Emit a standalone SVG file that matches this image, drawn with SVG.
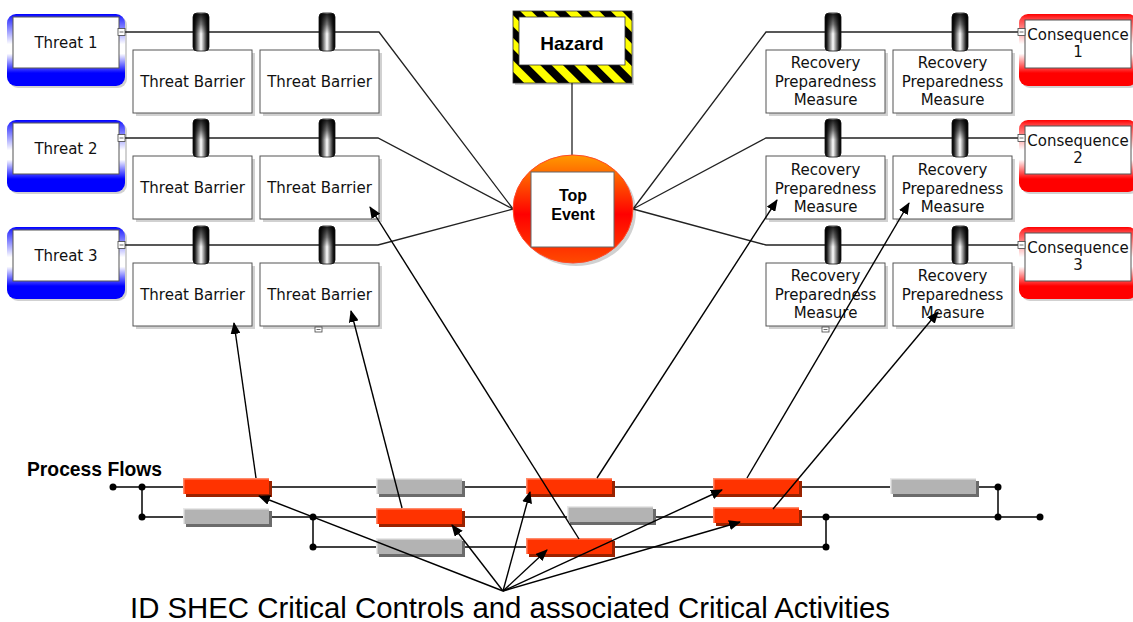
<svg xmlns="http://www.w3.org/2000/svg" width="1133" height="622" viewBox="0 0 1133 622">
<defs>
<style>
.box{fill:#fff;stroke:#555;stroke-width:1}
.sh{fill:#000;opacity:0.18}
.t{font-family:"DejaVu Sans",Verdana,sans-serif;font-size:15px;fill:#111;text-anchor:middle}
.b{font-family:"Liberation Sans",Arial,sans-serif;font-weight:bold;fill:#000}
.ln{stroke:#222;stroke-width:1.3;fill:none}
.arr{stroke:#000;stroke-width:1.4;fill:none;marker-end:url(#ah)}
.flow{stroke:#000;stroke-width:1.5;fill:none}
.tab{fill:url(#tabG);stroke:#111;stroke-width:0.8}
.tabtop{fill:url(#tabV)}
.red{fill:#ff3300}
.redsh{fill:#9a2200}
.redhl{fill:#ff8a6a}
.gray{fill:#b3b3b3}
.graysh{fill:#6b6b6b}
.grayhl{fill:#e8e8e8}
.mk{fill:#fff;stroke:#444;stroke-width:0.8}
</style>
<linearGradient id="tabG" x1="0" y1="0" x2="1" y2="0">
<stop offset="0" stop-color="#000"/><stop offset="0.12" stop-color="#1a1a1a"/><stop offset="0.5" stop-color="#fff"/><stop offset="0.88" stop-color="#1a1a1a"/><stop offset="1" stop-color="#000"/>
</linearGradient>
<linearGradient id="tabV" x1="0" y1="0" x2="0" y2="1">
<stop offset="0" stop-color="#000" stop-opacity="0.9"/><stop offset="0.3" stop-color="#000" stop-opacity="0.5"/><stop offset="0.55" stop-color="#000" stop-opacity="0"/><stop offset="1" stop-color="#000" stop-opacity="0"/>
</linearGradient>
<linearGradient id="blueG" x1="0" y1="0" x2="0" y2="1">
<stop offset="0" stop-color="#0000ff"/><stop offset="0.06" stop-color="#3a3aff"/><stop offset="0.42" stop-color="#ffffff"/><stop offset="0.55" stop-color="#ffffff"/><stop offset="0.82" stop-color="#0000ff"/><stop offset="1" stop-color="#0000ff"/>
</linearGradient>
<linearGradient id="redG" x1="0" y1="0" x2="0" y2="1">
<stop offset="0" stop-color="#ff0000"/><stop offset="0.06" stop-color="#ff3a3a"/><stop offset="0.42" stop-color="#ffffff"/><stop offset="0.55" stop-color="#ffffff"/><stop offset="0.82" stop-color="#ff0000"/><stop offset="1" stop-color="#ff0000"/>
</linearGradient>
<linearGradient id="teG" x1="0" y1="0" x2="0" y2="1">
<stop offset="0" stop-color="#ff9a00"/><stop offset="0.55" stop-color="#ff0000"/><stop offset="1" stop-color="#ff4a00"/>
</linearGradient>
<pattern id="stripes" patternUnits="userSpaceOnUse" width="16" height="16" patternTransform="rotate(-45)">
<rect width="16" height="16" fill="#ffff00"/><rect width="8" height="16" fill="#000"/>
</pattern>
<marker id="ah" markerWidth="12" markerHeight="10" refX="11" refY="5" orient="auto" markerUnits="userSpaceOnUse">
<path d="M0,0 L12,5 L0,10 Z" fill="#000"/>
</marker>
<g id="tabShape">
<rect x="0" y="0" width="16" height="38" rx="4" class="tab"/>
<rect x="0.4" y="0.4" width="15.2" height="37" rx="4" class="tabtop"/>
</g>
</defs>
<rect width="1133" height="622" fill="#fff"/>

<g id="connectors-bowtie">
<polyline class="ln" points="125,32 379,32 513,209"/>
<polyline class="ln" points="125,138 378,138 513,209"/>
<polyline class="ln" points="125,245 378,245 513,209"/>
<polyline class="ln" points="1018,32 766,32 633,209"/>
<polyline class="ln" points="1018,138 766,138 633,209"/>
<polyline class="ln" points="1018,245 766,245 633,209"/>
<line class="ln" x1="572" y1="83" x2="572" y2="155"/>
</g>

<g id="hazard">
<rect x="515" y="13" width="119" height="72" class="sh"/>
<rect x="513" y="11" width="119" height="72" fill="url(#stripes)" stroke="#333" stroke-width="0.8"/>
<rect x="519" y="17" width="106" height="48" fill="#fff" stroke="#333" stroke-width="0.8"/>
<text x="572" y="50" class="b" font-size="19" text-anchor="middle">Hazard</text>
</g>

<g id="top-event">
<ellipse cx="576" cy="212" rx="60" ry="54" class="sh"/>
<ellipse cx="573" cy="209" rx="60" ry="54" fill="url(#teG)" stroke="#ff4a2a" stroke-width="1"/>
<rect x="531" y="172" width="83" height="75" fill="#fff" stroke="#666" stroke-width="1"/>
<text x="573" y="201" class="b" font-size="16" text-anchor="middle">Top</text>
<text x="573" y="220" class="b" font-size="16" text-anchor="middle">Event</text>
</g>

<g id="threat-1">
<rect x="9" y="16" width="118" height="72" rx="9" class="sh"/>
<rect x="7" y="14" width="118" height="72" rx="9" fill="url(#blueG)"/>
<rect x="13" y="17" width="106" height="51" class="box"/>
<rect x="118" y="28.5" width="7" height="7" class="mk"/><line x1="119.5" y1="32" x2="123.5" y2="32" stroke="#444" stroke-width="0.8"/>
<text x="66" y="48" class="t">Threat 1</text>
</g>
<g id="threat-2">
<rect x="9" y="122" width="118" height="72" rx="9" class="sh"/>
<rect x="7" y="120" width="118" height="72" rx="9" fill="url(#blueG)"/>
<rect x="13" y="123" width="106" height="51" class="box"/>
<rect x="118" y="134.5" width="7" height="7" class="mk"/><line x1="119.5" y1="138" x2="123.5" y2="138" stroke="#444" stroke-width="0.8"/>
<text x="66" y="154" class="t">Threat 2</text>
</g>
<g id="threat-3">
<rect x="9" y="229" width="118" height="72" rx="9" class="sh"/>
<rect x="7" y="227" width="118" height="72" rx="9" fill="url(#blueG)"/>
<rect x="13" y="230" width="106" height="51" class="box"/>
<rect x="118" y="241.5" width="7" height="7" class="mk"/><line x1="119.5" y1="245" x2="123.5" y2="245" stroke="#444" stroke-width="0.8"/>
<text x="66" y="261" class="t">Threat 3</text>
</g>

<g id="threat-barrier-1-1">
<rect x="136" y="53" width="119" height="63" class="sh"/>
<rect x="133" y="50" width="119" height="63" class="box"/>
<use href="#tabShape" x="193" y="13"/>
<text x="192.5" y="87" class="t">Threat Barrier</text>
</g>
<g id="threat-barrier-1-2">
<rect x="263" y="53" width="119" height="63" class="sh"/>
<rect x="260" y="50" width="119" height="63" class="box"/>
<use href="#tabShape" x="319" y="13"/>
<text x="319.5" y="87" class="t">Threat Barrier</text>
</g>
<g id="threat-barrier-2-1">
<rect x="136" y="159" width="119" height="63" class="sh"/>
<rect x="133" y="156" width="119" height="63" class="box"/>
<use href="#tabShape" x="193" y="119"/>
<text x="192.5" y="193" class="t">Threat Barrier</text>
</g>
<g id="threat-barrier-2-2">
<rect x="263" y="159" width="119" height="63" class="sh"/>
<rect x="260" y="156" width="119" height="63" class="box"/>
<use href="#tabShape" x="319" y="119"/>
<text x="319.5" y="193" class="t">Threat Barrier</text>
</g>
<g id="threat-barrier-3-1">
<rect x="136" y="266" width="119" height="63" class="sh"/>
<rect x="133" y="263" width="119" height="63" class="box"/>
<use href="#tabShape" x="193" y="226"/>
<text x="192.5" y="300" class="t">Threat Barrier</text>
</g>
<g id="threat-barrier-3-2">
<rect x="263" y="266" width="119" height="63" class="sh"/>
<rect x="260" y="263" width="119" height="63" class="box"/>
<use href="#tabShape" x="319" y="226"/>
<text x="319.5" y="300" class="t">Threat Barrier</text>
<rect x="315" y="327" width="7" height="5" class="mk"/><line x1="316.5" y1="329.5" x2="320.5" y2="329.5" stroke="#444" stroke-width="0.8"/>
</g>

<g id="recovery-1-1">
<rect x="769" y="53" width="119" height="63" class="sh"/>
<rect x="766" y="50" width="119" height="63" class="box"/>
<use href="#tabShape" x="825" y="13"/>
<text x="825.5" y="68" class="t">Recovery</text><text x="825.5" y="86.5" class="t">Preparedness</text><text x="825.5" y="105" class="t">Measure</text>
</g>
<g id="recovery-1-2">
<rect x="896" y="53" width="119" height="63" class="sh"/>
<rect x="893" y="50" width="119" height="63" class="box"/>
<use href="#tabShape" x="952" y="13"/>
<text x="952.5" y="68" class="t">Recovery</text><text x="952.5" y="86.5" class="t">Preparedness</text><text x="952.5" y="105" class="t">Measure</text>
</g>
<g id="recovery-2-1">
<rect x="769" y="159" width="119" height="63" class="sh"/>
<rect x="766" y="156" width="119" height="63" class="box"/>
<use href="#tabShape" x="825" y="119"/>
<text x="825.5" y="175" class="t">Recovery</text><text x="825.5" y="193.5" class="t">Preparedness</text><text x="825.5" y="212" class="t">Measure</text>
</g>
<g id="recovery-2-2">
<rect x="896" y="159" width="119" height="63" class="sh"/>
<rect x="893" y="156" width="119" height="63" class="box"/>
<use href="#tabShape" x="952" y="119"/>
<text x="952.5" y="175" class="t">Recovery</text><text x="952.5" y="193.5" class="t">Preparedness</text><text x="952.5" y="212" class="t">Measure</text>
</g>
<g id="recovery-3-1">
<rect x="769" y="266" width="119" height="63" class="sh"/>
<rect x="766" y="263" width="119" height="63" class="box"/>
<use href="#tabShape" x="825" y="226"/>
<text x="825.5" y="281" class="t">Recovery</text><text x="825.5" y="299.5" class="t">Preparedness</text><text x="825.5" y="318" class="t">Measure</text>
<rect x="822" y="327" width="7" height="5" class="mk"/><line x1="823.5" y1="329.5" x2="827.5" y2="329.5" stroke="#444" stroke-width="0.8"/>
</g>
<g id="recovery-3-2">
<rect x="896" y="266" width="119" height="63" class="sh"/>
<rect x="893" y="263" width="119" height="63" class="box"/>
<use href="#tabShape" x="952" y="226"/>
<text x="952.5" y="281" class="t">Recovery</text><text x="952.5" y="299.5" class="t">Preparedness</text><text x="952.5" y="318" class="t">Measure</text>
</g>

<g id="consequence-1">
<rect x="1021" y="16" width="118" height="72" rx="9" class="sh"/>
<rect x="1019" y="14" width="118" height="72" rx="9" fill="url(#redG)"/>
<rect x="1025" y="20" width="106" height="48" class="box"/>
<rect x="1018" y="28.5" width="7" height="7" class="mk"/><line x1="1019.5" y1="32" x2="1023.5" y2="32" stroke="#444" stroke-width="0.8"/>
<text x="1078" y="40" class="t">Consequence</text><text x="1078" y="57" class="t">1</text>
</g>
<g id="consequence-2">
<rect x="1021" y="122" width="118" height="72" rx="9" class="sh"/>
<rect x="1019" y="120" width="118" height="72" rx="9" fill="url(#redG)"/>
<rect x="1025" y="126" width="106" height="48" class="box"/>
<rect x="1018" y="134.5" width="7" height="7" class="mk"/><line x1="1019.5" y1="138" x2="1023.5" y2="138" stroke="#444" stroke-width="0.8"/>
<text x="1078" y="146" class="t">Consequence</text><text x="1078" y="163" class="t">2</text>
</g>
<g id="consequence-3">
<rect x="1021" y="229" width="118" height="72" rx="9" class="sh"/>
<rect x="1019" y="227" width="118" height="72" rx="9" fill="url(#redG)"/>
<rect x="1025" y="233" width="106" height="48" class="box"/>
<rect x="1018" y="241.5" width="7" height="7" class="mk"/><line x1="1019.5" y1="245" x2="1023.5" y2="245" stroke="#444" stroke-width="0.8"/>
<text x="1078" y="253" class="t">Consequence</text><text x="1078" y="270" class="t">3</text>
</g>

<text x="27" y="476" class="b" font-size="19.3">Process Flows</text>

<g id="process-flows">
<line class="flow" x1="113" y1="487" x2="998" y2="487"/>
<line class="flow" x1="142" y1="517" x2="1040" y2="517"/>
<line class="flow" x1="313" y1="547" x2="826" y2="547"/>
<line class="flow" x1="142" y1="487" x2="142" y2="517"/>
<line class="flow" x1="313" y1="517" x2="313" y2="547"/>
<line class="flow" x1="826" y1="517" x2="826" y2="547"/>
<line class="flow" x1="998" y1="487" x2="998" y2="517"/>
<g fill="#000">
<circle cx="113" cy="487" r="3.5"/><circle cx="142" cy="487" r="3.5"/><circle cx="142" cy="517" r="3.5"/>
<circle cx="313" cy="517" r="3.5"/><circle cx="313" cy="547" r="3.5"/>
<circle cx="826" cy="517" r="3.5"/><circle cx="826" cy="547" r="3.5"/>
<circle cx="998" cy="487" r="3.5"/><circle cx="998" cy="517" r="3.5"/><circle cx="1040" cy="517" r="3.5"/>
</g>
</g>

<g id="bar-r1-1"><rect x="186" y="481" width="86" height="16" class="redsh"/><rect x="183" y="478" width="86" height="16" class="redhl"/><rect x="184.5" y="479.5" width="84.5" height="14.5" class="red"/></g>
<g id="bar-r1-2"><rect x="379" y="481" width="86" height="16" class="graysh"/><rect x="376" y="478" width="86" height="16" class="grayhl"/><rect x="377.5" y="479.5" width="84.5" height="14.5" class="gray"/></g>
<g id="bar-r1-3"><rect x="529" y="481" width="86" height="16" class="redsh"/><rect x="526" y="478" width="86" height="16" class="redhl"/><rect x="527.5" y="479.5" width="84.5" height="14.5" class="red"/></g>
<g id="bar-r1-4"><rect x="716" y="481" width="86" height="16" class="redsh"/><rect x="713" y="478" width="86" height="16" class="redhl"/><rect x="714.5" y="479.5" width="84.5" height="14.5" class="red"/></g>
<g id="bar-r1-5"><rect x="893" y="481" width="86" height="16" class="graysh"/><rect x="890" y="478" width="86" height="16" class="grayhl"/><rect x="891.5" y="479.5" width="84.5" height="14.5" class="gray"/></g>
<g id="bar-r2-1"><rect x="186" y="511" width="86" height="16" class="graysh"/><rect x="183" y="508" width="86" height="16" class="grayhl"/><rect x="184.5" y="509.5" width="84.5" height="14.5" class="gray"/></g>
<g id="bar-r2-2"><rect x="379" y="511" width="86" height="16" class="redsh"/><rect x="376" y="508" width="86" height="16" class="redhl"/><rect x="377.5" y="509.5" width="84.5" height="14.5" class="red"/></g>
<g id="bar-r2-3"><rect x="570" y="509" width="86" height="16" class="graysh"/><rect x="567" y="506" width="86" height="16" class="grayhl"/><rect x="568.5" y="507.5" width="84.5" height="14.5" class="gray"/></g>
<g id="bar-r2-4"><rect x="716" y="510" width="86" height="16" class="redsh"/><rect x="713" y="507" width="86" height="16" class="redhl"/><rect x="714.5" y="508.5" width="84.5" height="14.5" class="red"/></g>
<g id="bar-r3-1"><rect x="379" y="541" width="86" height="16" class="graysh"/><rect x="376" y="538" width="86" height="16" class="grayhl"/><rect x="377.5" y="539.5" width="84.5" height="14.5" class="gray"/></g>
<g id="bar-r3-2"><rect x="529" y="541" width="86" height="16" class="redsh"/><rect x="526" y="538" width="86" height="16" class="redhl"/><rect x="527.5" y="539.5" width="84.5" height="14.5" class="red"/></g>

<g id="connectors-arrows">
<line class="arr" x1="256" y1="478" x2="234" y2="323"/>
<line class="arr" x1="402" y1="508" x2="351" y2="311"/>
<line class="arr" x1="579" y1="539" x2="370" y2="207"/>
<line class="arr" x1="597" y1="478" x2="777" y2="200"/>
<line class="arr" x1="747" y1="478" x2="909" y2="203"/>
<line class="arr" x1="773" y1="509" x2="938" y2="312"/>
<line class="arr" x1="503" y1="591" x2="259" y2="496"/>
<line class="arr" x1="503" y1="591" x2="452" y2="525"/>
<line class="arr" x1="503" y1="591" x2="530" y2="492"/>
<line class="arr" x1="503" y1="591" x2="547" y2="550"/>
<line class="arr" x1="503" y1="591" x2="722" y2="490"/>
<line class="arr" x1="503" y1="591" x2="740" y2="522"/>
</g>

<text x="130" y="618" font-family="'Liberation Sans',Arial,sans-serif" font-size="29.5" textLength="760" lengthAdjust="spacingAndGlyphs" fill="#000">ID SHEC Critical Controls and associated Critical Activities</text>
</svg>
